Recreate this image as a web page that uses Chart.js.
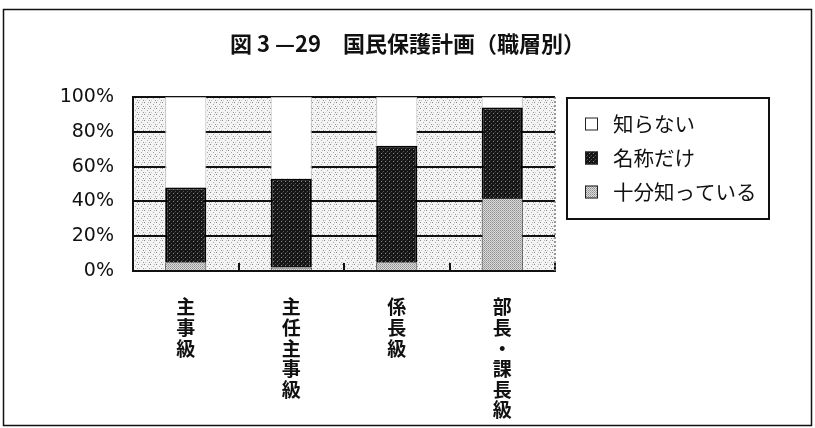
<!DOCTYPE html>
<html lang="ja">
<head>
<meta charset="utf-8">
<title>国民保護計画（職層別）</title>
<script src="https://cdn.jsdelivr.net/npm/chart.js@4/dist/chart.umd.min.js"></script>
<style>
  html, body { margin: 0; padding: 0; background: #fff; }
  #wrap { width: 815px; height: 428px; position: relative; }
</style>
</head>
<body>
<div id="wrap"><canvas id="chart" width="815" height="428"></canvas></div>
<script>
// 職層ごとの認知度（%）
const categories = ['主事級', '主任主事級', '係長級', '部長・課長級'];
const wellKnown  = [5, 2, 5, 42];    // 十分知っている
const nameOnly   = [43, 51, 67, 52]; // 名称だけ
const unknown    = [52, 47, 28, 6];  // 知らない
const seriesNames = ['十分知っている', '名称だけ', '知らない'];
const yTicks = [0, 20, 40, 60, 80, 100];

const JP = '"Noto Sans CJK JP", "Noto Sans", sans-serif';

// small fixed tiles used as hatch-like fills
function makePattern(size, base, dots) {
  const c = document.createElement('canvas');
  c.width = size; c.height = size;
  const g = c.getContext('2d');
  g.fillStyle = base;
  g.fillRect(0, 0, size, size);
  dots.forEach(([x, y, col]) => { g.fillStyle = col; g.fillRect(x, y, 1, 1); });
  return g.createPattern(c, 'repeat');
}
const ctx0 = document.getElementById('chart').getContext('2d');
const bgPattern = makePattern(6, '#f4f4f4', [[0,0,'#888'],[3,2,'#aaa'],[5,4,'#999'],[1,4,'#ccc'],[4,0,'#bbb']]);
const darkPattern = makePattern(4, '#151515', [[1,1,'#8a8a8a'],[3,3,'#555'],[2,0,'#333']]);
const lightPattern = makePattern(2, '#dcdcdc', [[0,0,'#8c8c8c'],[1,1,'#a8a8a8']]);

const plotBackground = {
  id: 'plotBackground',
  beforeDraw(chart) {
    const { ctx, chartArea: a } = chart;
    ctx.save();
    // outer frame
    ctx.strokeStyle = '#111';
    ctx.lineWidth = 1.5;
    ctx.strokeRect(3.5, 9.5, 808, 416);
    // plot area fill
    ctx.fillStyle = bgPattern;
    ctx.fillRect(a.left, a.top, a.right - a.left, a.bottom - a.top);
    ctx.restore();
  },
  afterDatasetsDraw(chart) {
    const { ctx, chartArea: a } = chart;
    ctx.save();
    ctx.strokeStyle = '#777';
    ctx.lineWidth = 1.5;
    ctx.setLineDash([2, 2]);
    ctx.beginPath();
    ctx.moveTo(a.right, a.top);
    ctx.lineTo(a.right, a.bottom);
    ctx.stroke();
    ctx.restore();
  }
};

// boxed legend at the upper right of the plot
const boxLegend = {
  id: 'boxLegend',
  afterDraw(chart, args, opts) {
    const { ctx } = chart;
    const x = opts.x, y = opts.y, w = opts.w, h = opts.h;
    ctx.save();
    ctx.fillStyle = '#fff';
    ctx.fillRect(x, y, w, h);
    ctx.strokeStyle = '#111';
    ctx.lineWidth = 2;
    ctx.strokeRect(x, y, w, h);
    const ds = chart.data.datasets.slice().reverse();
    ds.forEach((d, i) => {
      const cy = y + opts.firstY + i * opts.step;
      ctx.fillStyle = d.backgroundColor;
      ctx.fillRect(x + opts.boxX, cy - 6.5, 13, 13);
      ctx.strokeStyle = '#222';
      ctx.lineWidth = 1;
      ctx.strokeRect(x + opts.boxX + 0.5, cy - 6, 12, 12);
      ctx.fillStyle = '#111';
      ctx.font = '20.5px ' + JP;
      ctx.textBaseline = 'middle';
      ctx.textAlign = 'left';
      ctx.fillText(d.label, x + opts.textX, cy);
    });
    ctx.restore();
  }
};

new Chart(ctx0, {
  type: 'bar',
  data: {
    labels: categories.map(s => [...s]),
    datasets: [
      { label: seriesNames[0], data: wellKnown, backgroundColor: lightPattern, borderColor: '#333', borderWidth: 1 },
      { label: seriesNames[1], data: nameOnly,  backgroundColor: darkPattern,  borderColor: '#000', borderWidth: 2 },
      { label: seriesNames[2], data: unknown,   backgroundColor: '#ffffff',    borderColor: '#bbb', borderWidth: 1 }
    ]
  },
  options: {
    responsive: false,
    animation: false,
    layout: { padding: 0 },
    datasets: { bar: { categoryPercentage: 1, barPercentage: 0.39 } },
    plugins: {
      legend: { display: false },
      tooltip: { enabled: false },
      title: {
        display: true,
        text: '図 3 —29　国民保護計画（職層別）',
        color: '#111',
        font: { family: JP, size: 22, weight: 'bold' },
        padding: { top: 30, bottom: 40.6 }
      },
      boxLegend: { x: 567, y: 98, w: 202, h: 121, boxX: 18, textX: 46, firstY: 26, step: 34 }
    },
    scales: {
      x: {
        stacked: true,
        offset: true,
        grid: { display: true, drawOnChartArea: false, drawTicks: true, tickLength: -8, color: '#111', lineWidth: 2 },
        border: { display: true, color: '#111', width: 2 },
        ticks: {
          color: '#111',
          font: { family: JP, size: 19, weight: 'bold', lineHeight: 1.08 },
          padding: 34,
          maxRotation: 0,
          autoSkip: false
        },
        afterFit(s) { s.height = 157; }
      },
      y: {
        stacked: true,
        min: 0,
        max: 100,
        afterBuildTicks(s) { s.ticks = yTicks.map(v => ({ value: v })); },
        grid: { color: '#111', lineWidth: 2, drawTicks: false },
        border: { display: true, color: '#111', width: 2 },
        ticks: {
          color: '#111',
          font: { family: '"DejaVu Sans", sans-serif', size: 19 },
          padding: 19,
          callback: v => v + '%'
        },
        afterFit(s) { s.width = 133; }
      },
      // empty right-hand band that holds the legend box
      side: {
        position: 'right',
        min: 0,
        max: 100,
        grid: { display: false },
        border: { display: false },
        ticks: { display: false },
        afterFit(s) { s.width = 260; }
      }
    }
  },
  plugins: [plotBackground, boxLegend]
});
</script>
</body>
</html>
